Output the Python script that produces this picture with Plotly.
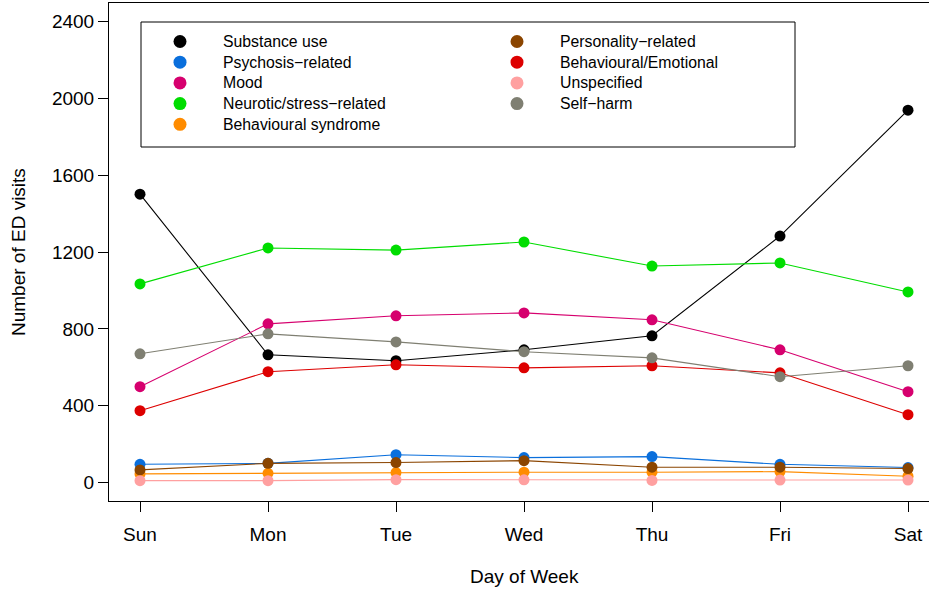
import plotly.graph_objects as go

days = ["Sun", "Mon", "Tue", "Wed", "Thu", "Fri", "Sat"]
day_pos = [1, 2, 3, 4, 5, 6, 7]

series_names = [
    "Substance use", "Psychosis\u2212related", "Mood", "Neurotic/stress\u2212related",
    "Behavioural syndrome", "Personality\u2212related", "Behavioural/Emotional",
    "Unspecified", "Self\u2212harm",
]
substance_use = [1501, 665, 634, 691, 764, 1283, 1938]
psychosis = [95, 100, 145, 130, 135, 95, 78]
mood = [499, 826, 868, 883, 847, 691, 473]
neurotic = [1034, 1221, 1210, 1252, 1127, 1143, 992]
behav_syndrome = [45, 48, 52, 54, 54, 57, 33]
personality = [66, 100, 104, 114, 80, 80, 73]
behav_emotional = [374, 577, 613, 597, 608, 571, 353]
unspecified = [10, 10, 15, 14, 11, 13, 13]
self_harm = [670, 774, 732, 681, 649, 551, 608]

series_values = [substance_use, psychosis, mood, neurotic, behav_syndrome,
                 personality, behav_emotional, unspecified, self_harm]
colors = ["#000000", "#0A6FDC", "#D6006E", "#00DD00", "#FF8C00",
          "#8B4500", "#DD0000", "#FFA0A0", "#7F7F72"]

y_ticks = [0, 400, 800, 1200, 1600, 2000, 2400]

FONT = "Liberation Sans, Arial, Helvetica, sans-serif"
W, H = 929, 592
ML, MR, MT, MB = 109, 0, 3, 91
PW, PH = W - ML - MR, H - MT - MB

fig = go.Figure()
for name, vals, col in zip(series_names, series_values, colors):
    fig.add_trace(go.Scatter(
        x=day_pos, y=vals, name=name, mode="lines+markers",
        line=dict(color=col, width=1.1),
        marker=dict(color=col, size=11, line=dict(width=0)),
        showlegend=False,
    ))

def px_x(px):
    return (px - ML) / PW

def px_y(py):
    return (H - MB - py) / PH

shapes = [dict(type="rect", xref="paper", yref="paper",
               x0=px_x(141), x1=px_x(795), y0=px_y(147), y1=px_y(22),
               line=dict(color="black", width=1), fillcolor="white", layer="below")]
annotations = []
col_marker_x = [180, 517]
col_text_x = [221, 558]
rows_per_col = 5
for i, (name, col) in enumerate(zip(series_names, colors)):
    c = i // rows_per_col
    r = i % rows_per_col
    yy = 41.5 + 20.7 * r
    shapes.append(dict(type="circle", xref="paper", yref="paper",
                       xsizemode="pixel", ysizemode="pixel",
                       xanchor=px_x(col_marker_x[c]), yanchor=px_y(yy),
                       x0=-6.5, x1=6.5, y0=-6.5, y1=6.5,
                       fillcolor=col, line=dict(width=0)))
    annotations.append(dict(xref="paper", yref="paper", x=px_x(col_text_x[c]), y=px_y(yy),
                            xanchor="left", yanchor="middle", text=name, showarrow=False,
                            font=dict(size=15.8, color="black", family=FONT)))

annotations.append(dict(xref="paper", yref="paper", x=px_x(524), y=px_y(576),
                        xanchor="center", yanchor="middle", text="Day of Week",
                        showarrow=False, font=dict(size=19, color="black", family=FONT)))
annotations.append(dict(xref="paper", yref="paper", x=px_x(18), y=px_y(252),
                        xanchor="center", yanchor="middle", text="Number of ED visits",
                        textangle=-90, showarrow=False,
                        font=dict(size=19, color="black", family=FONT)))

fig.update_layout(
    width=W, height=H,
    margin=dict(l=ML, r=MR, t=MT, b=MB, pad=0),
    paper_bgcolor="white", plot_bgcolor="white",
    font=dict(family=FONT, size=19, color="black"),
    shapes=shapes, annotations=annotations,
    showlegend=False,
)
fig.update_xaxes(
    range=[1 - 31 / 128, 1 - 31 / 128 + PW / 128],
    tickmode="array", tickvals=day_pos, ticktext=days,
    showgrid=False, zeroline=False,
    showline=True, mirror=True, linecolor="black", linewidth=1,
    ticks="outside", ticklen=10, tickcolor="black", tickwidth=1,
    ticklabelstandoff=6,
    tickfont=dict(size=19, family=FONT, color="black"),
)
fig.update_yaxes(
    range=[-96, 2496],
    tickmode="array", tickvals=y_ticks, ticktext=[str(v) for v in y_ticks],
    showgrid=False, zeroline=False,
    showline=True, mirror=False, linecolor="black", linewidth=1,
    ticks="outside", ticklen=10, tickcolor="black", tickwidth=1,
    tickfont=dict(size=19, family=FONT, color="black"),
)

fig.write_html("out.html", config={"displayModeBar": False},
               post_script="document.body.style.margin='0';document.body.style.overflow='hidden';")
